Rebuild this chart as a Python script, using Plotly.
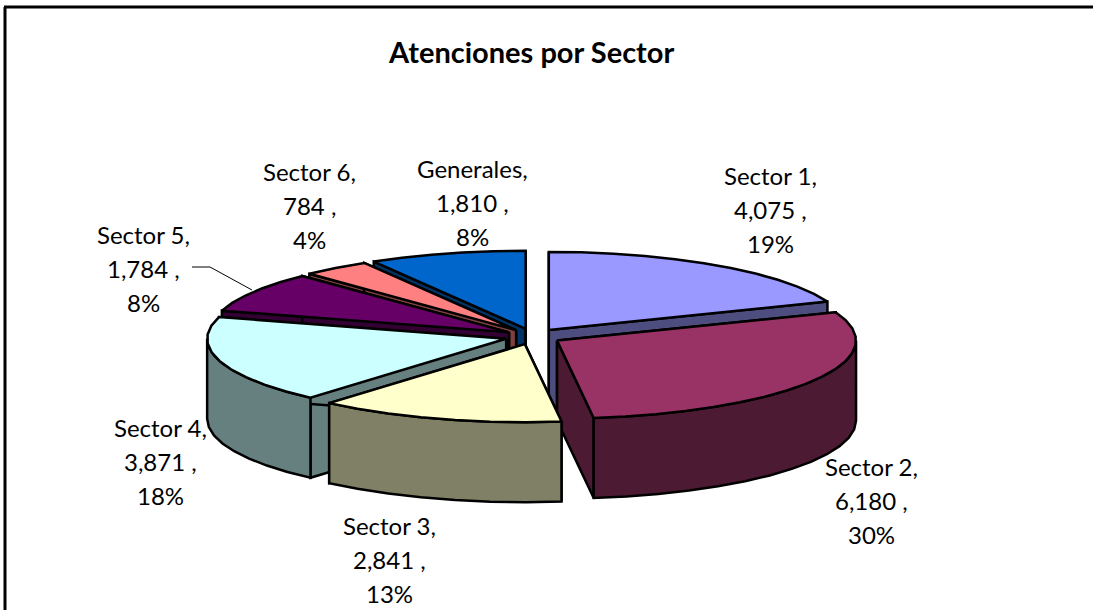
import math
import plotly.graph_objects as go

categories = ["Sector 1", "Sector 2", "Sector 3", "Sector 4", "Sector 5", "Sector 6", "Generales"]
values = [4075, 6180, 2841, 3871, 1784, 784, 1810]
value_labels = ["4,075", "6,180", "2,841", "3,871", "1,784", "784", "1,810"]
percent_labels = ["19%", "30%", "13%", "18%", "8%", "4%", "8%"]
top_colors = ["#9999FF", "#993366", "#FFFFCC", "#CCFFFF", "#660066", "#FF8080", "#0066CC"]
side_colors = ["#4D4D80", "#4D1A33", "#808066", "#668080", "#330033", "#804040", "#003366"]
label_pos = [(770, 175), (871, 466), (389, 525), (160, 427), (143, 234), (309, 171), (472, 168)]
draw_order = [6, 5, 4, 0, 3, 1, 2]

CX, CY, RX, RY, EX, EY, DEPTH = 533, 336.5, 299, 78, 28, 8, 80
LINE_H = 34

total = sum(values)
angles = [0]
for v in values:
    angles.append(angles[-1] + v / total * 360)

def pt(ox, oy, deg, r=1.0):
    t = math.radians(deg)
    return ox + RX * r * math.sin(t), oy - RY * r * math.cos(t)

fig = go.Figure()

def poly(points, color):
    xs = [p[0] for p in points] + [points[0][0]]
    ys = [p[1] for p in points] + [points[0][1]]
    fig.add_trace(go.Scatter(x=xs, y=ys, mode="lines", fill="toself", fillcolor=color,
                             line=dict(color="black", width=2.5, simplify=False),
                             hoverinfo="skip", showlegend=False))

for i in draw_order:
    a0, a1 = angles[i], angles[i + 1]
    mid = math.radians((a0 + a1) / 2)
    ox = CX + EX * math.sin(mid)
    oy = CY - EY * math.cos(mid)
    for a in (a0, a1):
        p = pt(ox, oy, a)
        poly([(ox, oy), p, (p[0], p[1] + DEPTH), (ox, oy + DEPTH)], side_colors[i])
    lo, hi = max(a0, 90), min(a1, 270)
    if lo < hi:
        n = max(2, int((hi - lo) / 6))
        arc = [pt(ox, oy, lo + (hi - lo) * k / n) for k in range(n + 1)]
        poly(arc + [(x, y + DEPTH) for x, y in reversed(arc)], side_colors[i])
    n = max(2, int((a1 - a0) / 6))
    poly([(ox, oy)] + [pt(ox, oy, a0 + (a1 - a0) * k / n) for k in range(n + 1)], top_colors[i])

annotations = [dict(x=531, y=51, text="<b>Atenciones por Sector</b>", showarrow=False,
                    xref="x", yref="y", font=dict(family="Lato", size=29, color="black"))]
for i, c in enumerate(categories):
    lx, ly = label_pos[i]
    for k, line in enumerate([c + ",", value_labels[i] + " ,", percent_labels[i]]):
        annotations.append(dict(x=lx, y=ly + k * LINE_H, text=line, showarrow=False,
                                xref="x", yref="y", font=dict(family="Lato", size=24, color="black")))

shapes = [
    dict(type="line", x0=5, y0=7, x1=5, y1=610, line=dict(color="black", width=3), layer="below"),
    dict(type="line", x0=4, y0=7, x1=1093, y1=7, line=dict(color="black", width=3), layer="below"),
    dict(type="path", path="M192,267 L210,267 L252,290", line=dict(color="black", width=1)),
]

fig.update_layout(
    width=1093, height=610, margin=dict(l=0, r=0, t=0, b=0),
    paper_bgcolor="white", plot_bgcolor="white",
    xaxis=dict(range=[0, 1093], visible=False, fixedrange=True),
    yaxis=dict(range=[610, 0], visible=False, fixedrange=True),
    annotations=annotations, shapes=shapes, showlegend=False,
)
fig.write_html("out.html", config=dict(displayModeBar=False),
               post_script="document.body.style.margin='0';document.body.style.overflow='hidden';")
